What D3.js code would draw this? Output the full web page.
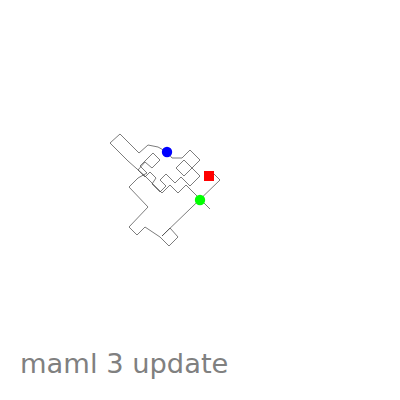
<!DOCTYPE html>
<html><head><meta charset="utf-8">
<script src="https://cdn.jsdelivr.net/npm/d3@7"></script>
<style>body{margin:0;background:#fff}svg{display:block}</style>
</head><body>
<script>
// walk coordinates (data units)
const walkX = [1.0,-1.4,-2.2,-3.0,-3.8,-5.5,-7.2,-9.0,-8.0,-6.1,-5.2,-4.2,-3.3,-2.8,-1.8,-1.0,0.0,-0.8,-1.6,-2.4,-1.6,-0.8,0.0,-1.0,-1.9,-2.5,-3.4,-4.0,-3.4,-4.0,-4.8,-4.4,-5.0,-5.5,-6.2,-5.5,-4.8,-4.0,-4.7,-6.0,-5.3,-6.2,-7.1,-5.2,-7.1,-6.3,-5.5,-4.0,-3.1,-2.2,-3.0,-3.8,2.0,1.4,0.9];
const walkY = [-0.9,1.5,0.7,1.5,0.7,2.4,3.9,5.7,6.6,4.7,5.5,5.3,4.8,4.2,4.2,5.0,4.0,3.2,4.0,3.2,2.4,3.2,2.4,1.4,2.3,1.7,2.6,2.0,1.4,0.8,1.6,2.2,2.8,2.3,3.0,3.8,3.2,4.0,4.7,3.4,2.7,2.2,1.3,-0.7,-2.7,-3.5,-2.7,-3.7,-4.6,-3.7,-2.8,-3.6,2.0,2.6,2.4];
// markers
const markerNames = ["current","start","goal"];
const markerX = [-3.3,0.0,0.9];
const markerY = [4.8,0.0,2.4];
const markerColors = ["#0000ff","#00ff00","#ff0000"];
const markerShapes = ["circle","circle","square"];
const titleText = "maml 3 update";

const W = 400, H = 400;
const svg = d3.select("body").append("svg").attr("width", W).attr("height", H);
const x = d3.scaleLinear().domain([-20, 20]).range([0, 400]);
const y = d3.scaleLinear().domain([-20, 20]).range([400, 0]);

const pts = walkX.map((v, i) => [v, walkY[i]]);
svg.append("path")
  .attr("d", d3.line().x(d => x(d[0])).y(d => y(d[1]))(pts))
  .attr("fill", "none").attr("stroke", "#444").attr("stroke-width", 0.7);

markerNames.forEach((n, i) => {
  const sym = markerShapes[i] === "square" ? d3.symbolSquare : d3.symbolCircle;
  const size = markerShapes[i] === "square" ? 100 : 85;
  svg.append("path")
    .attr("d", d3.symbol().type(sym).size(size)())
    .attr("transform", `translate(${x(markerX[i])},${y(markerY[i])})`)
    .attr("fill", markerColors[i]);
});

svg.append("text").attr("x", 20).attr("y", 373)
  .attr("font-family", "DejaVu Sans").attr("font-size", 27.3)
  .attr("fill", "#808080").text(titleText);
</script>
</body></html>
